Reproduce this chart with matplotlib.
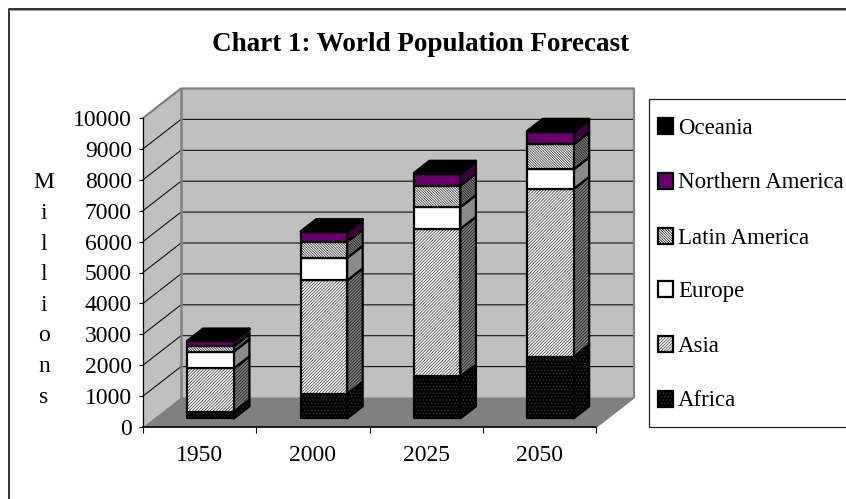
import matplotlib
matplotlib.use("Agg")
import matplotlib.pyplot as plt
from matplotlib.patches import Polygon, Rectangle

plt.rcParams['font.family'] = ['Liberation Serif', 'DejaVu Serif']
plt.rcParams['hatch.linewidth'] = 0.55

years = ['1950', '2000', '2025', '2050']
regions = ['Africa', 'Asia', 'Europe', 'Latin America', 'Northern America', 'Oceania']

africa = [221, 794, 1358, 1998]
asia = [1398, 3672, 4777, 5428]
europe = [547, 727, 702, 631]
latin_america = [167, 519, 695, 809]
northern_america = [172, 314, 374, 392]
oceania = [13, 31, 41, 46]
series = [africa, asia, europe, latin_america, northern_america, oceania]

value_ticks = list(range(0, 11000, 1000))

# front colour, side colour, hatch colour front, hatch colour side, hatch
styles = {
    'Africa': ('#000000', '#000000', '#333333', '#333333', '.' * 5),
    'Asia': ('#ffffff', '#808080', '#444444', '#222222', '/' * 11),
    'Europe': ('#ffffff', '#8a8a8a', None, None, None),
    'Latin America': ('#ffffff', '#808080', '#333333', '#222222', '\\' * 13),
    'Northern America': ('#660066', '#3a003a', None, None, None),
    'Oceania': ('#000000', '#000000', None, None, None),
}

W, H = 846, 499
fig = plt.figure(figsize=(W / 100, H / 100), dpi=100, facecolor='white')

# page level axes in pixels: outer frame, title, legend
page = fig.add_axes([0, 0, 1, 1])
page.set_xlim(0, W)
page.set_ylim(H, 0)
page.axis('off')
page.plot([8.5, 8.5, W], [H, 9, 9], color='#111111', lw=1.2)
page.plot([9, W], [10, 10], color='#999999', lw=0.7)
page.text(421, 44.5, 'Chart 1: World Population Forecast', ha='center', va='center',
          fontsize=19.5, fontweight='bold')
page.text(44, 290, '\n'.join('Millions'), ha='center', va='center',
          fontsize=17, linespacing=1.6, multialignment='center')

# plotting axes, the front plane of the oblique box
left, right, top, bottom = 143, 596, 118, 427
ax = fig.add_axes([left / W, 1 - bottom / H, (right - left) / W, (bottom - top) / H])
ax.patch.set_alpha(0)
ax.set_xlim(-0.5, 3.5)
ax.set_ylim(0, 10000)
for side in ('top', 'right'):
    ax.spines[side].set_visible(False)
ax.spines['left'].set_linewidth(0.9)
ax.spines['bottom'].set_linewidth(1.2)
ax.spines['left'].set_zorder(6)
ax.spines['bottom'].set_zorder(6)

ax.set_yticks(value_ticks)
ax.tick_params(axis='y', length=3, width=0.8, pad=5, labelsize=17)
ax.set_xticks(range(4))
ax.set_xticklabels(years)
ax.tick_params(axis='x', which='major', length=0, pad=13, labelsize=17)
ax.set_xticks([-0.5, 0.5, 1.5, 2.5, 3.5], minor=True)
ax.tick_params(axis='x', which='minor', length=4.5, width=0.8)

# oblique offset of the full box depth, in data units
dx = 38 / ((right - left) / 4)
dy = 29.5 / ((bottom - top) / 10000)
x0, x1, y0, y1 = -0.5, 3.5, 0, 10000


def shift(x, y, d):
    return (x + d * dx, y + d * dy)


def face(points, color, hatch_color=None, hatch=None, edge='black', lw=1.6, z=2):
    if hatch:
        ax.add_patch(Polygon(points, closed=True, facecolor=color, edgecolor=hatch_color,
                             hatch=hatch, lw=0, zorder=z, clip_on=False))
    else:
        ax.add_patch(Polygon(points, closed=True, facecolor=color, edgecolor='none',
                             lw=0, zorder=z, clip_on=False))
    if edge:
        ax.add_patch(Polygon(points, closed=True, fill=False, edgecolor=edge, lw=lw,
                             zorder=z, clip_on=False, joinstyle='round'))


# walls and floor
wall = '#c0c0c0'
wall_edge = '#808080'
face([shift(x0, y0, 0), shift(x0, y1, 0), shift(x0, y1, 1), shift(x0, y0, 1)], wall,
     edge=None, z=1)
face([shift(x0, y0, 1), shift(x0, y1, 1), shift(x1, y1, 1), shift(x1, y0, 1)], wall,
     edge=None, z=1)
face([shift(x0, y0, 0), shift(x0, y0, 1), shift(x1, y0, 1), shift(x1, y0, 0)], '#808080',
     edge=None, z=1)

for v in value_ticks[1:]:
    xs, ys = zip(shift(x0, v, 0), shift(x0, v, 1), shift(x1, v, 1))
    ax.plot(xs, ys, color='#111111', lw=0.8, zorder=1.5, clip_on=False)

xs, ys = zip(shift(x0, y1, 0), shift(x0, y1, 1), shift(x1, y1, 1), shift(x1, y0, 1), shift(x1, y0, 0))
ax.plot(xs, ys, color=wall_edge, lw=1.5, zorder=1.6, clip_on=False)
xs, ys = zip(shift(x0, y0, 1), shift(x0, y1, 1))
ax.plot(xs, ys, color=wall_edge, lw=1.8, zorder=1.6, clip_on=False)

# stacked columns drawn bottom up, column by column
bar_w = 0.41
d_front, d_back = 0.29, 0.70
for i in range(len(years)):
    base = 0
    xa, xb = i - bar_w / 2, i + bar_w / 2
    for name, values in zip(regions, series):
        tip = base + values[i]
        front_c, side_c, hatch_f, hatch_s, hatch = styles[name]
        face([shift(xb, base, d_front), shift(xb, base, d_back), shift(xb, tip, d_back),
              shift(xb, tip, d_front)], side_c, hatch_s, hatch, z=3)
        face([shift(xa, base, d_front), shift(xb, base, d_front), shift(xb, tip, d_front),
              shift(xa, tip, d_front)], front_c, hatch_f, hatch, z=3)
        base = tip
    face([shift(xa, base, d_front), shift(xb, base, d_front), shift(xb, base, d_back),
          shift(xa, base, d_back)], '#000000', z=3)

# legend box, runs off the right edge of the figure
page.add_patch(Rectangle((648.5, 98.5), 300, 328, facecolor='white', edgecolor='#222222', lw=0.9))
page.set_zorder(ax.get_zorder() - 1)
rows = [126, 181, 236, 289, 344, 399]
for row, name in zip(rows, regions[::-1]):
    front_c, _, hatch_f, _, hatch = styles[name]
    if hatch:
        page.add_patch(Rectangle((657.5, row - 8), 15, 16, facecolor=front_c, edgecolor=hatch_f,
                                 hatch=hatch, lw=0))
    else:
        page.add_patch(Rectangle((657.5, row - 8), 15, 16, facecolor=front_c, edgecolor='none'))
    page.add_patch(Rectangle((657.5, row - 8), 15, 16, fill=False, edgecolor='black', lw=1.6))
    page.text(678, row + 7.5, name, ha='left', va='baseline', fontsize=16.5)

fig.savefig('out.png', dpi=100)
